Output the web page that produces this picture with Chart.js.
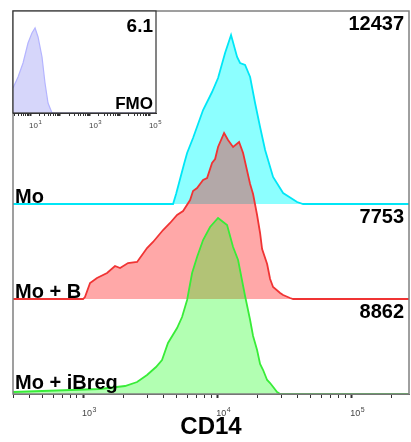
<!DOCTYPE html>
<html>
<head>
<meta charset="utf-8">
<script src="https://cdn.jsdelivr.net/npm/chart.js@4/dist/chart.umd.min.js"></script>
<style>
  html, body { margin: 0; padding: 0; background: #fff; }
  #wrap { position: relative; width: 411px; height: 442px; }
  #main, #fmo { position: absolute; left: 0; top: 0; }
</style>
</head>
<body>
<div id="wrap">
  <canvas id="main" width="411" height="442"></canvas>
  <canvas id="fmo" width="165" height="135"></canvas>
</div>
<script>
const moX = [300, 4690, 4940, 5290, 5665, 5970, 6610, 7855, 9165, 10160, 11460, 12700, 14090, 14830, 16160, 17620, 19190, 20910, 22800, 26140, 31060, 39490, 43770, 270000];
const moY = [0, 0, 10, 25, 40, 51, 66, 94, 112, 126, 151, 169, 147, 141, 139, 127, 101, 77, 54, 27, 11, 2, 0, 0];

const moBX = [300, 1000, 1033, 1127, 1270, 1510, 1730, 1888, 2163, 2528, 3000, 3326, 3952, 4455, 5025, 5570, 6285, 6610, 7085, 7855, 8415, 9165, 9660, 10160, 11270, 12060, 13150, 14580, 15620, 17620, 18540, 19860, 20910, 21650, 23600, 24840, 26140, 29510, 31060, 35000, 36870, 270000];
const moBY = [0, 0, 2, 16, 21, 26, 33, 31, 36, 37, 51, 57, 69, 76, 84, 88, 99, 108, 111, 119, 121, 136, 140, 152, 166, 159, 152, 157, 146, 115, 105, 84, 66, 50, 35, 20, 12, 6, 4, 1, 0, 0];

const moIbX = [300, 1337, 2056, 2528, 3000, 3500, 3880, 4300, 5025, 5475, 5970, 6505, 7085, 7855, 8855, 10160, 11860, 13150, 14330, 16160, 17620, 18540, 19860, 20910, 22030, 23600, 24840, 28010, 29510, 270000];
const moIbY = [2, 5, 8, 12, 19, 27, 34, 51, 66, 77, 94, 121, 137, 154, 167, 176, 169, 147, 134, 98, 74, 58, 44, 30, 24, 14, 11, 2, 0, 0];

// FMO control (inset)
const fmoX = [2.7, 3.98, 5.84, 8.57, 11.6, 14.7, 18.5, 25.1, 31.6, 39.8, 54, 160000];
const fmoY = [25, 36, 50, 70, 80, 85, 76, 56, 30, 10, 0, 0];

const sampleNames = ['Mo', 'Mo + B', 'Mo + iBreg'];
const eventCounts = ['12437', '7753', '8862'];
const fmoValue = '6.1';
const fmoName = 'FMO';
const axisTitle = 'CD14';
const tickExponents = [3, 4, 5];      // labelled as 10^3, 10^4, 10^5
const fmoTickExponents = [1, 3, 5];   // labelled as 10^1, 10^3, 10^5

const FONT = '"Liberation Sans", Arial, sans-serif';
const LANE = 95; // vertical offset between stacked histograms

function logTicks(min, max) {
  const out = [];
  for (let e = Math.floor(Math.log10(min)); e <= Math.ceil(Math.log10(max)); e++) {
    for (let m = 1; m <= 9; m++) {
      const v = m * Math.pow(10, e);
      if (v >= min && v <= max) out.push({ value: v, major: m === 1 });
    }
  }
  return out;
}

// "10" with a raised exponent under each labelled decade
function drawDecadeLabels(chart, exps, size, baseline) {
  const { ctx, scales: { x } } = chart;
  ctx.save();
  ctx.fillStyle = '#444';
  ctx.textAlign = 'left';
  ctx.textBaseline = 'alphabetic';
  exps.forEach((e) => {
    const px = x.getPixelForValue(Math.pow(10, e));
    ctx.font = size + 'px ' + FONT;
    ctx.fillText('10', px - 1, baseline);
    const w = ctx.measureText('10').width;
    ctx.font = Math.round(size * 0.8) + 'px ' + FONT;
    ctx.fillText(String(e), px - 0.5 + w, baseline - size * 0.45);
  });
  ctx.restore();
}

const series = [
  { x: moX, y: moY, line: '#00e6f6', fill: 'rgb(140,255,255)' },
  { x: moBX, y: moBY, line: '#f03434', fill: 'rgba(255,0,0,0.34)' },
  { x: moIbX, y: moIbY, line: '#38ec38', fill: 'rgba(0,255,0,0.30)' }
];

const datasets = series.map((s, i) => {
  const base = (series.length - 1 - i) * LANE;
  return {
    data: s.x.map((x, j) => ({ x: x, y: base + s.y[j] })),
    borderColor: s.line,
    backgroundColor: s.fill,
    borderWidth: 1.8,
    fill: { value: base },
    pointRadius: 0,
    tension: 0,
    order: series.length - i
  };
});

// labels and frame for the main overlay
const overlayText = {
  id: 'overlayText',
  afterDraw(chart) {
    const { ctx, chartArea: a, scales: { y } } = chart;
    ctx.save();
    ctx.fillStyle = '#000';
    ctx.font = 'bold 20px ' + FONT;
    ctx.textBaseline = 'alphabetic';
    sampleNames.forEach((name, i) => {
      const base = (sampleNames.length - 1 - i) * LANE;
      const yb = y.getPixelForValue(base);
      const top = i === 0 ? a.top : y.getPixelForValue(base + LANE);
      const lift = i === sampleNames.length - 1 ? 5 : 1;
      ctx.textAlign = 'left';
      ctx.fillText(name, a.left + 2, yb - lift);
      ctx.textAlign = 'right';
      ctx.fillText(eventCounts[i], a.right - 5, top + 19);
    });
    ctx.strokeStyle = '#808080';
    ctx.lineWidth = 1.5;
    ctx.strokeRect(a.left, a.top, a.right - a.left, a.bottom - a.top);
    ctx.restore();
    drawDecadeLabels(chart, tickExponents, 9, a.bottom + 22);
  }
};

new Chart(document.getElementById('main'), {
  type: 'line',
  data: { datasets: datasets },
  options: {
    responsive: false,
    animation: false,
    layout: { padding: { left: 13, top: 11, right: 2, bottom: 0 } },
    plugins: { legend: { display: false }, tooltip: { enabled: false } },
    scales: {
      x: {
        type: 'logarithmic',
        min: 300,
        max: 270000,
        afterBuildTicks: (scale) => { scale.ticks = logTicks(300, 270000); },
        afterFit: (scale) => { scale.height = 48; },
        border: { display: true, color: '#555', width: 1 },
        grid: {
          drawOnChartArea: false,
          tickLength: 4,
          tickColor: '#333',
          tickWidth: (c) => (c.tick && c.tick.major ? 2 : 1)
        },
        ticks: { display: false },
        title: {
          display: true,
          text: axisTitle,
          color: '#000',
          font: { family: FONT, size: 24, weight: 'bold' },
          padding: { top: 0, bottom: 0 }
        }
      },
      y: { type: 'linear', display: false, min: 0, max: 383 }
    }
  },
  plugins: [overlayText]
});

// FMO inset
const insetFrame = {
  id: 'insetFrame',
  beforeDraw(chart) {
    const { ctx, chartArea: a } = chart;
    ctx.save();
    ctx.fillStyle = '#fff';
    ctx.fillRect(a.left, a.top, a.right - a.left, a.bottom - a.top);
    ctx.restore();
  },
  afterDraw(chart) {
    const { ctx, chartArea: a } = chart;
    ctx.save();
    ctx.fillStyle = '#000';
    ctx.textAlign = 'right';
    ctx.font = 'bold 19px ' + FONT;
    ctx.fillText(fmoValue, a.right - 3, a.top + 21);
    ctx.font = 'bold 17px ' + FONT;
    ctx.fillText(fmoName, a.right - 3, a.bottom - 4);
    ctx.strokeStyle = '#333';
    ctx.lineWidth = 1.2;
    ctx.strokeRect(a.left, a.top, a.right - a.left, a.bottom - a.top);
    ctx.restore();
    drawDecadeLabels(chart, fmoTickExponents, 8, a.bottom + 15);
  }
};

new Chart(document.getElementById('fmo'), {
  type: 'line',
  data: {
    datasets: [{
      data: fmoX.map((x, j) => ({ x: x, y: fmoY[j] })),
      borderColor: '#b4b4ff',
      backgroundColor: 'rgb(214,214,250)',
      borderWidth: 1.2,
      fill: { value: 0 },
      pointRadius: 0,
      tension: 0
    }]
  },
  options: {
    responsive: false,
    animation: false,
    layout: { padding: { left: 13, top: 11, right: 9, bottom: 0 } },
    plugins: { legend: { display: false }, tooltip: { enabled: false } },
    scales: {
      x: {
        type: 'logarithmic',
        min: 2.7,
        max: 160000,
        afterBuildTicks: (scale) => { scale.ticks = logTicks(2.7, 160000); },
        afterFit: (scale) => { scale.height = 22; },
        border: { display: true, color: '#333', width: 1 },
        grid: {
          drawOnChartArea: false,
          tickLength: 3,
          tickColor: '#333',
          tickWidth: (c) => (c.tick && c.tick.major ? 2 : 1)
        },
        ticks: { display: false }
      },
      y: { type: 'linear', display: false, min: 0, max: 102 }
    }
  },
  plugins: [insetFrame]
});
</script>
</body>
</html>
